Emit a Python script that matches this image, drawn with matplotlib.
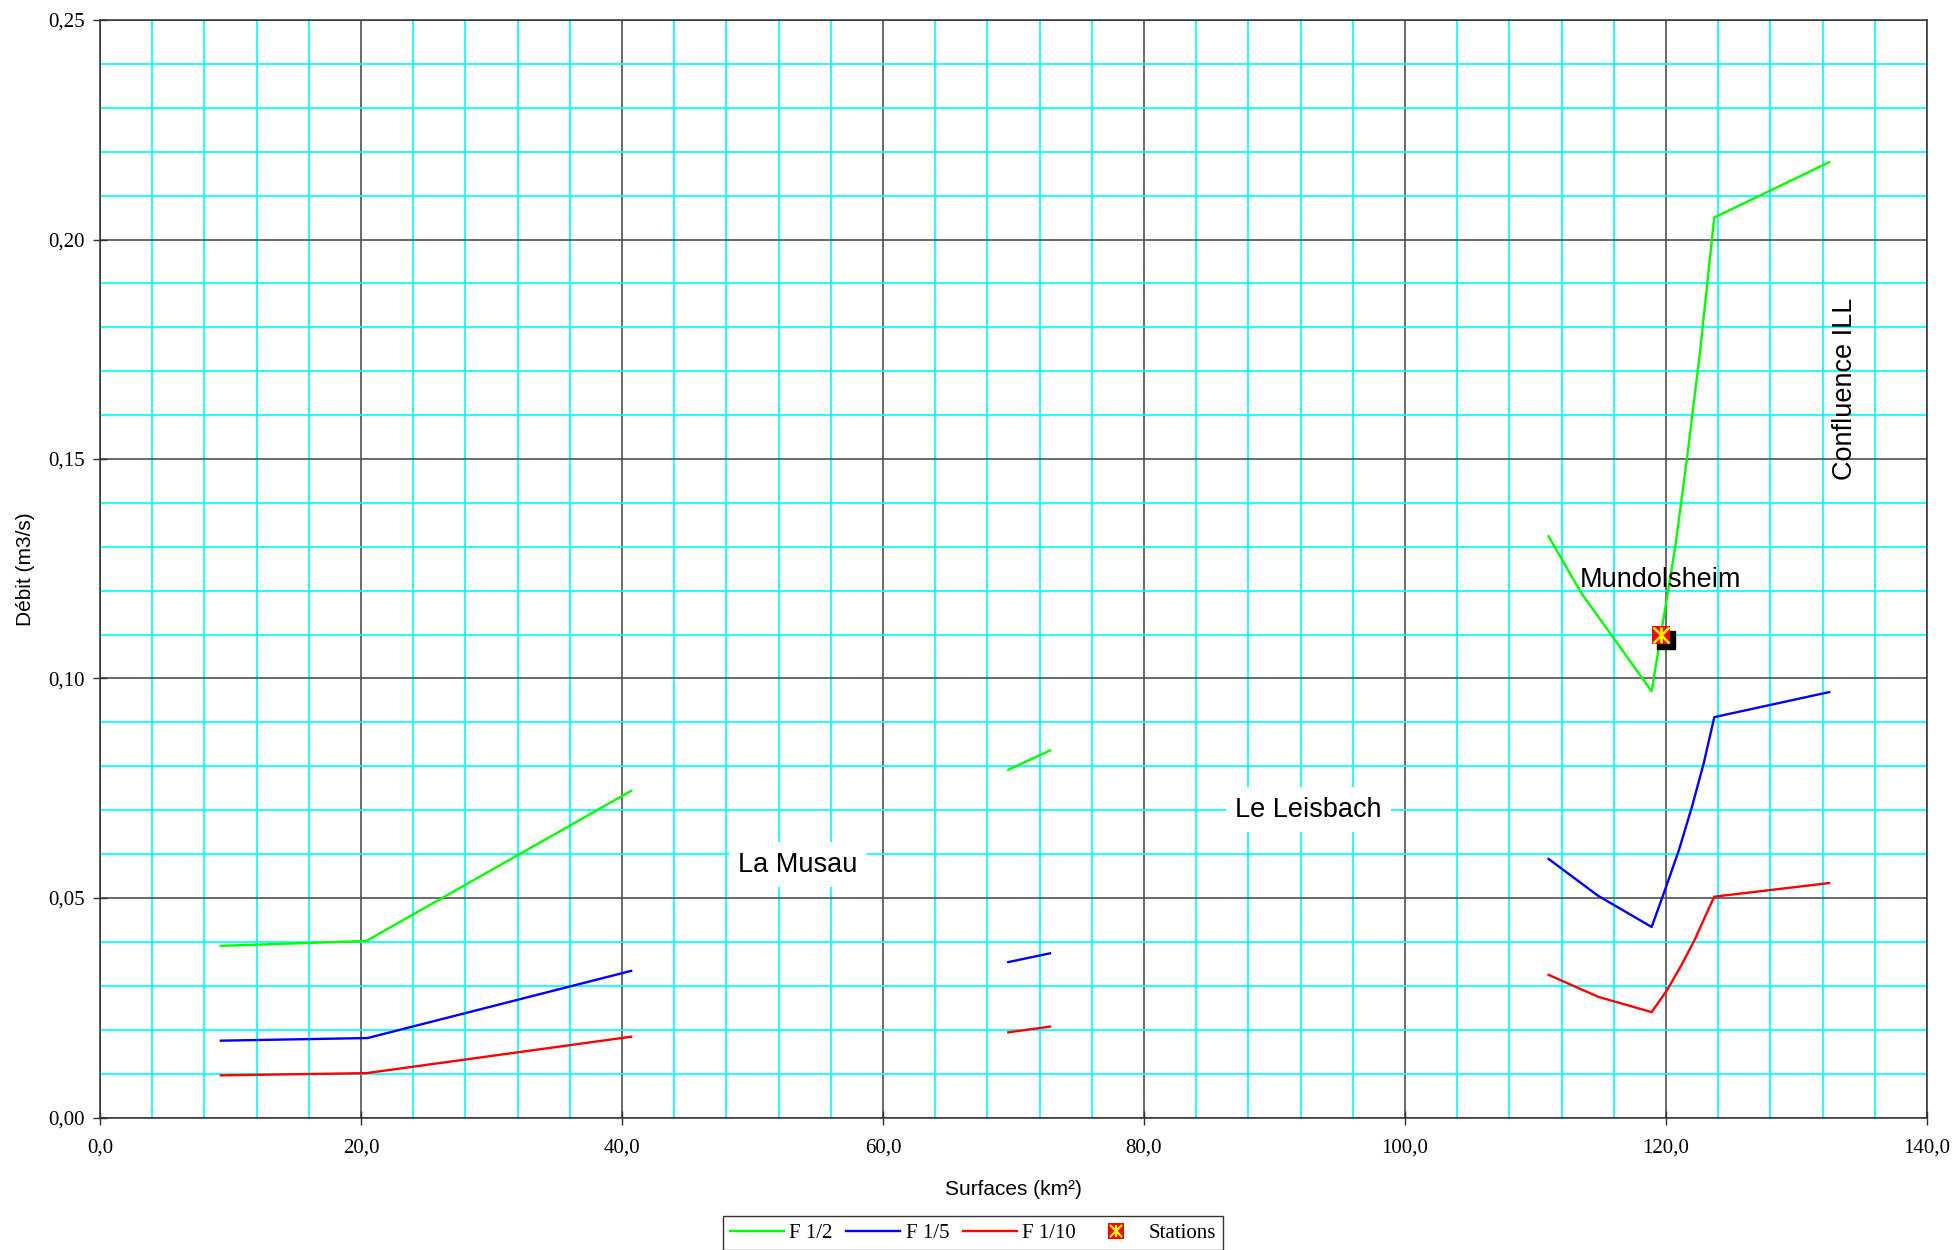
import matplotlib
matplotlib.use("Agg")
import matplotlib.pyplot as plt
from matplotlib.ticker import MultipleLocator, FuncFormatter
from matplotlib.lines import Line2D
from matplotlib.legend_handler import HandlerTuple
from matplotlib.transforms import offset_copy

# ---------------- data ----------------
# Reach 1 (La Musau)
r1_x_f2 = [9.26, 20.4, 40.7]
r1_f2 = [0.0391, 0.0402, 0.0744]
r1_x_f5 = [9.26, 20.5, 40.7]
r1_f5 = [0.0175, 0.0181, 0.0334]
r1_x_f10 = [9.26, 20.4, 40.7]
r1_f10 = [0.0096, 0.0101, 0.0184]

# Reach 2
r2_x = [69.6, 72.8]
r2_f2 = [0.0792, 0.0836]
r2_f5 = [0.0354, 0.0374]
r2_f10 = [0.0194, 0.0207]

# Reach 3 (Le Leisbach / Mundolsheim / Confluence ILL)
r3_x_f2 = [111.0, 113.5, 118.9, 120.7, 121.6, 122.6, 123.7, 132.5]
r3_f2 = [0.1324, 0.1195, 0.0971, 0.1298, 0.1499, 0.1742, 0.2050, 0.2176]
r3_x_f5 = [111.0, 114.8, 118.9, 120.0, 121.0, 122.0, 122.9, 123.7, 132.5]
r3_f5 = [0.0589, 0.0505, 0.0434, 0.0525, 0.0610, 0.0709, 0.0808, 0.0912, 0.0969]
r3_x_f10 = [111.0, 114.8, 118.9, 120.1, 121.2, 122.2, 123.0, 123.7, 132.5]
r3_f10 = [0.0325, 0.0275, 0.0240, 0.0291, 0.0348, 0.0405, 0.0458, 0.0503, 0.0534]

# Stations
station_x = [119.6]
station_y = [0.110]

series_labels = ["F 1/2", "F 1/5", "F 1/10", "Stations"]
annotations = [
    ("La Musau", 53.5, 0.0576, 0, True),
    ("Le Leisbach", 92.6, 0.0701, 0, True),
    ("Mundolsheim", 119.6, 0.1225, 0, False),
    ("Confluence ILL", 133.7, 0.1660, 90, False),
]

# ---------------- figure ----------------
W, H = 1955, 1250
fig = plt.figure(figsize=(W / 100, H / 100), dpi=100)
ax = fig.add_axes([100 / W, 1 - 1117.5 / H, 1827 / W, 1097.5 / H])

GREEN, BLUE, RED = "#00FF00", "#0000FF", "#FF0000"
LW = 1.7

ax.set_xlim(0, 140)
ax.set_ylim(0, 0.25)
ax.xaxis.set_major_locator(MultipleLocator(20))
ax.xaxis.set_minor_locator(MultipleLocator(4))
ax.yaxis.set_major_locator(MultipleLocator(0.05))
ax.yaxis.set_minor_locator(MultipleLocator(0.01))
ax.xaxis.set_major_formatter(FuncFormatter(lambda v, p: f"{v:.1f}".replace(".", ",")))
ax.yaxis.set_major_formatter(FuncFormatter(lambda v, p: f"{v:.2f}".replace(".", ",")))

ax.grid(which="minor", color="#00FFFF", linewidth=1.25, zorder=0)
ax.grid(which="major", color="#505050", linewidth=1.2, zorder=0.5)
ax.set_axisbelow(True)

ax.tick_params(which="major", direction="inout", length=10, width=1.0,
               color="#303030", labelsize=15)
ax.tick_params(axis="x", which="major", pad=10)
ax.tick_params(axis="y", which="major", pad=6)
ax.tick_params(which="minor", length=0)
for lab in ax.get_xticklabels() + ax.get_yticklabels():
    lab.set_fontfamily("Liberation Serif")

for sp in ax.spines.values():
    sp.set_color("#303030")
    sp.set_linewidth(1.1)

# lines
ax.plot(r1_x_f2, r1_f2, color=GREEN, lw=LW, zorder=3)
ax.plot(r2_x, r2_f2, color=GREEN, lw=LW, zorder=3)
l2, = ax.plot(r3_x_f2, r3_f2, color=GREEN, lw=LW, zorder=3)
ax.plot(r1_x_f5, r1_f5, color=BLUE, lw=LW, zorder=3)
ax.plot(r2_x, r2_f5, color=BLUE, lw=LW, zorder=3)
l5, = ax.plot(r3_x_f5, r3_f5, color=BLUE, lw=LW, zorder=3)
ax.plot(r1_x_f10, r1_f10, color=RED, lw=LW, zorder=3)
ax.plot(r2_x, r2_f10, color=RED, lw=LW, zorder=3)
l10, = ax.plot(r3_x_f10, r3_f10, color=RED, lw=LW, zorder=3)

# station marker with shadow
shadow_tr = offset_copy(ax.transData, fig=fig, x=5, y=-5, units="dots")
ax.plot(station_x, station_y, ls="none", marker="s", ms=13, color="black",
        transform=shadow_tr, zorder=4)
ax.plot(station_x, station_y, ls="none", marker="s", ms=13, color=RED,
        markeredgewidth=0, zorder=5)
ax.plot(station_x, station_y, ls="none", marker="x", ms=11, color="#FFFF00",
        markeredgewidth=1.8, zorder=6)
ax.plot(station_x, station_y, ls="none", marker="|", ms=11, color="#FFFF00",
        markeredgewidth=1.8, zorder=6)

# annotations
for txt, x, y, rot, boxed in annotations:
    kw = dict(fontsize=19.5, family="Liberation Sans", ha="center", va="center",
              rotation=rot, zorder=7, color="black")
    if boxed:
        kw["bbox"] = dict(boxstyle="square,pad=0.35", fc="white", ec="none")
    ax.text(x, y, txt, **kw)

# axis labels
ax.set_xlabel("Surfaces (km²)", fontsize=15, family="Liberation Sans")
ax.xaxis.set_label_coords(0.5, -0.057)
ax.set_ylabel("Débit (m3/s)", fontsize=15, family="Liberation Sans")
ax.yaxis.set_label_coords(-0.0355, 0.5)

# legend
st_sq = Line2D([], [], ls="none", marker="s", ms=11, color=RED, markeredgewidth=0)
st_x = Line2D([], [], ls="none", marker="x", ms=9, color="#FFFF00", markeredgewidth=1.6)
st_v = Line2D([], [], ls="none", marker="|", ms=9, color="#FFFF00", markeredgewidth=1.6)
leg = fig.legend([l2, l5, l10, (st_sq, st_x, st_v)], series_labels,
                 loc="center", bbox_to_anchor=(973 / W, 1 - 1233 / H),
                 ncol=4, frameon=True, fancybox=False, shadow=False,
                 prop={"family": "Liberation Serif", "size": 15},
                 handlelength=2.6, handletextpad=0.25, columnspacing=0.65,
                 borderpad=0.35, borderaxespad=0,
                 handler_map={tuple: HandlerTuple(ndivide=1)})
leg.get_frame().set_edgecolor("black")
leg.get_frame().set_linewidth(1.0)

fig.savefig("out.png", dpi=100)
